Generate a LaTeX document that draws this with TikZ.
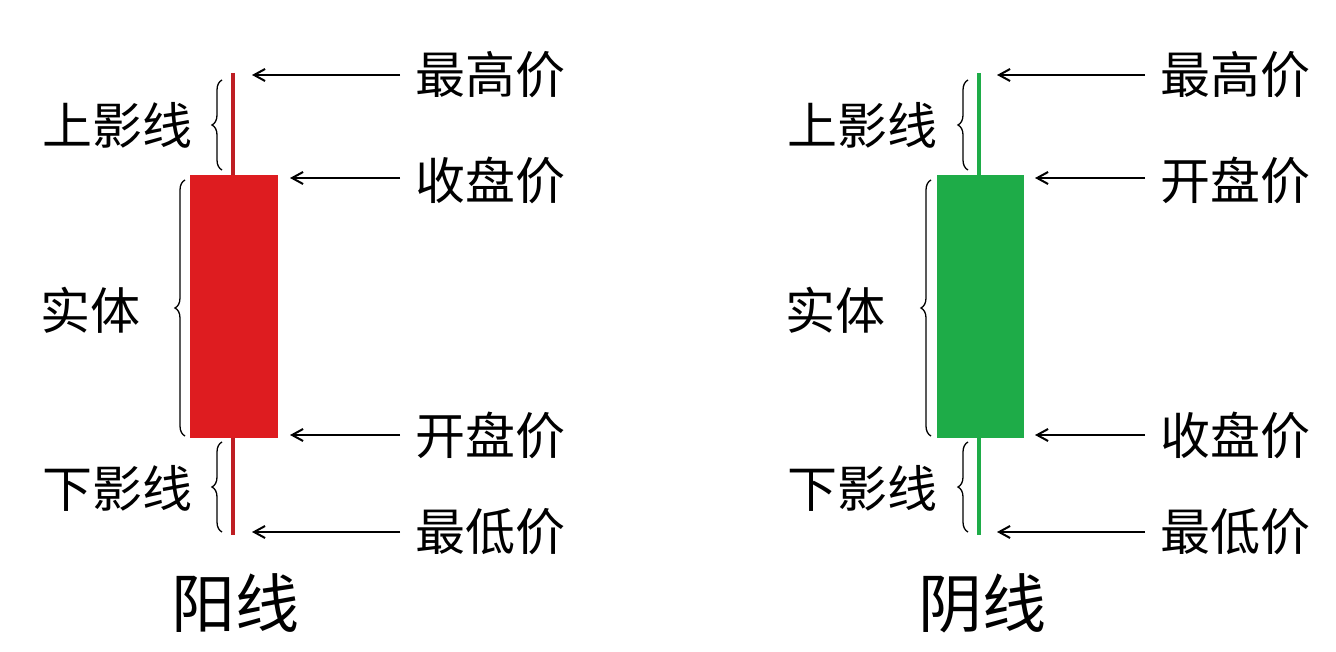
\documentclass[tikz,border=0pt]{standalone}
\usepackage{fontspec}
\newfontfamily\cjk{Noto Sans CJK SC}
\usetikzlibrary{decorations.pathreplacing,arrows.meta}
\definecolor{upred}{RGB}{222,28,32}
\definecolor{wickred}{RGB}{190,30,35}
\definecolor{downgreen}{RGB}{30,172,72}
\begin{document}
\begin{tikzpicture}[x=1pt,y=-1pt,
  lbl/.style={font=\cjk\fontsize{50}{50}\selectfont,inner sep=0pt},
  ttl/.style={font=\cjk\fontsize{64}{64}\selectfont,inner sep=0pt},
  arr/.style={-{Straight Barb[length=11pt,width=12pt]},line width=2pt},
  br/.style={decorate,decoration={brace,amplitude=10pt,mirror},line width=1.3pt}]
\useasboundingbox (0,0) rectangle (1336,652);
% red candle
\draw[wickred,line width=3.5pt] (233,73) -- (233,535);
\fill[upred] (190,175) rectangle (278,438);
\coordinate (rh) at (252,75); \coordinate (rc) at (290,178);
\coordinate (ro) at (290,435); \coordinate (rl) at (252,532);
\node[lbl] (r1) at (490,75) {最高价};
\node[lbl] (r2) at (490,180) {收盘价};
\node[lbl] (r3) at (490,435) {开盘价};
\node[lbl] (r4) at (490,532) {最低价};
\draw[arr] (400,75) -- (rh);
\draw[arr] (400,178) -- (rc);
\draw[arr] (400,435) -- (ro);
\draw[arr] (400,532) -- (rl);
\draw[br] (222,80) -- (222,170);
\draw[br] (185,180) -- (185,436);
\draw[br] (222,442) -- (222,532);
\node[lbl] (rs1) at (117,125) {上影线};
\node[lbl] (rb) at (90,310) {实体};
\node[lbl] (rs2) at (117,488) {下影线};
\node[ttl] (rt) at (235,603) {阳线};
% green candle
\draw[downgreen,line width=3.5pt] (979,73) -- (979,535);
\fill[downgreen] (937,175) rectangle (1024,438);
\coordinate (gh) at (997,75); \coordinate (go) at (1035,178);
\coordinate (gc) at (1035,435); \coordinate (gl) at (997,532);
\node[lbl] (g1) at (1235,75) {最高价};
\node[lbl] (g2) at (1235,180) {开盘价};
\node[lbl] (g3) at (1235,435) {收盘价};
\node[lbl] (g4) at (1235,532) {最低价};
\draw[arr] (1145,75) -- (gh);
\draw[arr] (1145,178) -- (go);
\draw[arr] (1145,435) -- (gc);
\draw[arr] (1145,532) -- (gl);
\draw[br] (968,80) -- (968,170);
\draw[br] (931,180) -- (931,436);
\draw[br] (968,442) -- (968,532);
\node[lbl] (gs1) at (862,125) {上影线};
\node[lbl] (gb) at (835,310) {实体};
\node[lbl] (gs2) at (862,488) {下影线};
\node[ttl] (gt) at (982,603) {阴线};
\end{tikzpicture}
\end{document}
